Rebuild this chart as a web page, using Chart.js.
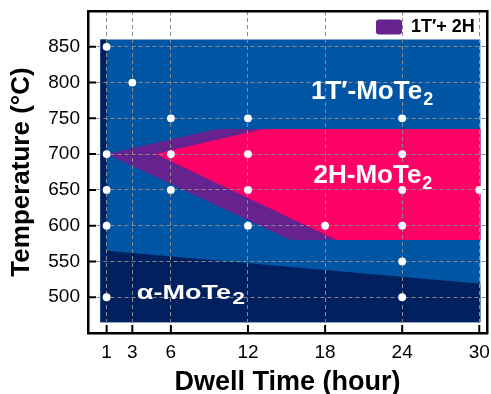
<!DOCTYPE html>
<html>
<head>
<meta charset="utf-8">
<script src="https://cdn.jsdelivr.net/npm/chart.js@4.4.1/dist/chart.umd.min.js"></script>
<style>
  html, body { margin: 0; padding: 0; background: #fff; }
</style>
</head>
<body>
<canvas id="phaseChart" width="491" height="394"></canvas>
<script>
const FONT = "'Liberation Sans', Arial, sans-serif";

const xTicks = [1, 3, 6, 12, 18, 24, 30];
const yTicks = [500, 550, 600, 650, 700, 750, 800, 850];

// growth runs (dwell hour, temperature)
const sampleHours = [1, 1, 1, 1, 1, 3, 6, 6, 6, 12, 12, 12, 12, 18, 24, 24, 24, 24, 24, 24, 30];
const sampleTemps = [850, 700, 650, 600, 500, 800, 750, 700, 650, 750, 700, 650, 600, 600, 750, 700, 650, 600, 550, 500, 650];

// phase boundaries
const outerHours = [0.5, 30.1];
const outerTemps = [860, 860];
const outerFloor = 465;
const alphaHours = [0.5, 1, 1, 30.1];
const alphaTemps = [860, 860, 565, 519];
const mixUpperHours = [1, 9.6, 30.1];
const mixUpperTemps = [700, 735, 735];
const mixLowerHours = [1, 15.3, 30.1];
const mixLowerTemps = [700, 580, 580];
const hexUpperHours = [4.8, 13.2, 30.1];
const hexUpperTemps = [700, 735, 735];
const hexLowerHours = [4.8, 18.9, 30.1];
const hexLowerTemps = [700, 580, 580];

const BLUE = "#0055A5";
const NAVY = "#00205F";
const PURPLE = "#66238F";
const PINK = "#FF0066";

const toPoints = (xs, ys) => xs.map((x, i) => ({ x, y: ys[i] }));

function boundary(label, xs, ys, color, fill) {
  return {
    label,
    data: toPoints(xs, ys),
    backgroundColor: color,
    borderColor: "transparent",
    borderWidth: 0,
    pointRadius: 0,
    fill,
  };
}

const phaseLabels = [
  { text: "1T′-MoTe", at: [16.9, 777], size: 26, subSize: 18, drop: 6, stretch: 1 },
  { text: "2H-MoTe", at: [17.1, 660], size: 26, subSize: 18, drop: 6, stretch: 1 },
  { text: "α-MoTe", at: [3.35, 497], size: 20, subSize: 17, drop: 5, stretch: 1.35 },
];

const phaseText = {
  id: "phaseText",
  afterDatasetsDraw(chart) {
    const { ctx, scales } = chart;
    phaseLabels.forEach((label) => {
      ctx.save();
      ctx.translate(scales.x.getPixelForValue(label.at[0]), scales.y.getPixelForValue(label.at[1]));
      ctx.scale(label.stretch, 1);
      ctx.fillStyle = "#fff";
      ctx.textBaseline = "alphabetic";
      ctx.font = `bold ${label.size}px ${FONT}`;
      ctx.fillText(label.text, 0, 0);
      const w = ctx.measureText(label.text).width;
      ctx.font = `bold ${label.subSize}px ${FONT}`;
      ctx.fillText("2", w + 1, label.drop);
      ctx.restore();
    });
  },
};

// tick marks point into the plot
const innerTicks = {
  id: "innerTicks",
  afterDraw(chart) {
    const { ctx, chartArea, scales } = chart;
    ctx.save();
    ctx.strokeStyle = "#000";
    ctx.lineWidth = 2;
    ctx.beginPath();
    scales.x.ticks.forEach((t) => {
      const px = scales.x.getPixelForValue(t.value);
      ctx.moveTo(px, chartArea.bottom);
      ctx.lineTo(px, chartArea.bottom - 8);
    });
    scales.y.ticks.forEach((t) => {
      const py = scales.y.getPixelForValue(t.value);
      ctx.moveTo(chartArea.left, py);
      ctx.lineTo(chartArea.left + 8, py);
    });
    ctx.stroke();
    ctx.restore();
  },
};

// legend sits in the top right corner of the plot
const legendCorner = {
  id: "legendCorner",
  afterLayout(chart) {
    const lg = chart.legend;
    const w = lg.width;
    const h = lg.height;
    lg.left = chart.chartArea.right - 118;
    lg.right = lg.left + w;
    lg.top = chart.chartArea.top;
    lg.bottom = lg.top + h;
  },
};

const frameAxis = (position, fit) => ({
  position,
  display: true,
  grid: { display: false },
  ticks: { display: false },
  border: { display: true, color: "#000", width: 2.5 },
  afterFit: fit,
});

new Chart(document.getElementById("phaseChart"), {
  type: "line",
  data: {
    datasets: [
      {
        label: "samples",
        data: toPoints(sampleHours, sampleTemps),
        showLine: false,
        pointRadius: 3.9,
        pointBackgroundColor: "#fff",
        pointBorderWidth: 0,
        borderColor: "#fff",
        fill: false,
      },
      boundary("2H-MoTe2", hexUpperHours, hexUpperTemps, PINK, "+1"),
      boundary("2H lower", hexLowerHours, hexLowerTemps, PINK, false),
      boundary("1T′+ 2H", mixUpperHours, mixUpperTemps, PURPLE, "+1"),
      boundary("mix lower", mixLowerHours, mixLowerTemps, PURPLE, false),
      boundary("α-MoTe2", alphaHours, alphaTemps, NAVY, { value: outerFloor }),
      boundary("1T′-MoTe2", outerHours, outerTemps, BLUE, { value: outerFloor }),
    ],
  },
  options: {
    responsive: false,
    animation: false,
    layout: { padding: { top: 11, right: 4, left: 0, bottom: 0 } },
    scales: {
      x: {
        type: "linear",
        min: -0.45,
        max: 30.6,
        afterBuildTicks: (s) => { s.ticks = xTicks.map((value) => ({ value })); },
        afterFit: (s) => { s.height = 61; s.paddingLeft = 0; s.paddingRight = 0; },
        ticks: { color: "#000", padding: 8, font: { family: FONT, size: 19 } },
        grid: { color: "#8a8a8a", lineWidth: 1, drawTicks: false },
        border: { display: true, color: "#000", width: 2.5, dash: [4, 3] },
        title: {
          display: true,
          text: "Dwell Time (hour)",
          color: "#000",
          font: { family: FONT, size: 27, weight: "bold" },
          padding: { top: 0, bottom: -5 },
        },
      },
      y: {
        min: 450,
        max: 900,
        afterBuildTicks: (s) => { s.ticks = yTicks.map((value) => ({ value })); },
        afterFit: (s) => { s.width = 88; s.paddingTop = 0; s.paddingBottom = 0; },
        ticks: { color: "#000", padding: 8, font: { family: FONT, size: 19 } },
        grid: { color: "#8a8a8a", lineWidth: 1, drawTicks: false },
        border: { display: true, color: "#000", width: 2.5, dash: [4, 3] },
        title: {
          display: true,
          text: "Temperature (°C)",
          color: "#000",
          font: { family: FONT, size: 26, weight: "bold" },
          padding: { top: 6, bottom: 0 },
        },
      },
      x2: frameAxis("top", (s) => { s.height = 0; s.paddingLeft = 0; s.paddingRight = 0; }),
      y2: frameAxis("right", (s) => { s.width = 0; s.paddingTop = 0; s.paddingBottom = 0; }),
    },
    plugins: {
      filler: { drawTime: "beforeDraw" },
      tooltip: { enabled: false },
      legend: {
        position: "chartArea",
        align: "start",
        labels: {
          filter: (item) => item.datasetIndex === 3,
          boxWidth: 26,
          boxHeight: 15,
          useBorderRadius: true,
          borderRadius: 3,
          color: "#000",
          padding: 7,
          font: { family: FONT, size: 18, weight: "bold" },
        },
      },
    },
  },
  plugins: [phaseText, innerTicks, legendCorner],
});
</script>
</body>
</html>
